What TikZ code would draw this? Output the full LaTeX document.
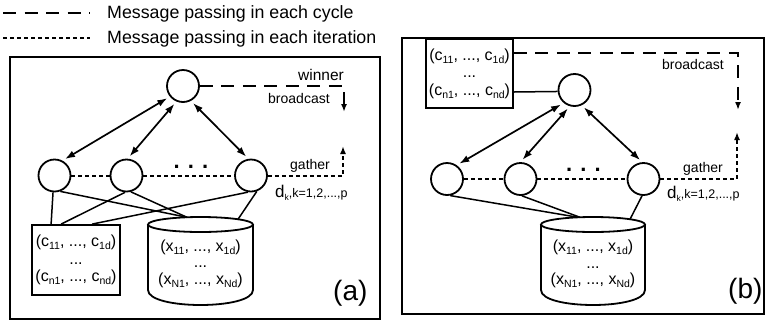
\documentclass[tikz,border=0pt]{standalone}
\usepackage{fontspec}
\setmainfont{Liberation Sans}
\usetikzlibrary{arrows.meta,calc}
\newcommand{\sbs}[1]{\raisebox{-3pt}{\fontsize{10.5}{10.5}\selectfont #1}}
\newcommand{\dklabel}{{\fontsize{17}{17}\selectfont d}\raisebox{-3pt}{\fontsize{8.5}{8.5}\selectfont k}{\fontsize{12.5}{12.5}\selectfont ,k=1,2,...,p}}
\begin{document}
\begin{tikzpicture}[x=1pt,y=-1pt,
  frame/.style={draw, line width=2pt, inner sep=0},
  neuron/.style={circle, draw, line width=1.8pt, minimum size=32pt, inner sep=0},
  conn/.style={line width=1.5pt},
  biarrow/.style={line width=1.7pt, {Latex[length=10pt,width=7pt]}-{Latex[length=10pt,width=7pt]}, shorten <=3pt, shorten >=3pt},
  cyclemsg/.style={line width=2pt, dash pattern=on 13pt off 8.5pt},
  itermsg/.style={line width=2pt, dash pattern=on 4pt off 3pt},
  tip/.style={-{Latex[length=8pt,width=6pt]}},
  dbox/.style={draw, line width=1.8pt, minimum width=88pt, minimum height=70pt, inner sep=0, align=center, font=\fontsize{16}{17.5}\selectfont},
  dtext/.style={inner sep=0, align=center, font=\fontsize{16}{16.5}\selectfont},
  cylbody/.style={line width=1.8pt},
  lbl/.style={inner sep=0, anchor=base west},
  legfont/.style={font=\fontsize{17.8}{20}\selectfont},
  smallfont/.style={font=\fontsize{14}{16}\selectfont},
  dots/.style={inner sep=0, font=\fontsize{22}{22}\selectfont\bfseries}
]
\useasboundingbox (0,0) rectangle (767,322);

% legend
\coordinate (lg1s) at (3,13);
\coordinate (lg1e) at (90,13);
\coordinate (lg2s) at (3,38);
\coordinate (lg2e) at (90,38);
\draw[cyclemsg] (lg1s) -- (lg1e);
\draw[itermsg] (lg2s) -- (lg2e);
\node[lbl, legfont] (lgt1) at (107,18) {Message passing in each cycle};
\node[lbl, legfont] (lgt2) at (107,43) {Message passing in each iteration};

% ---------------- panel (a)
\node[frame, minimum width=370pt, minimum height=262pt] (panelA) at (195,188) {};
\node[neuron] (topA) at (183,86) {};
\node[neuron] (cA1) at (54.5,175.5) {};
\node[neuron] (cA2) at (126.5,175.5) {};
\node[neuron] (cA3) at (251,175.5) {};
\node[dots] (dotsA) at (191,167) {. . .};

\node[dbox] (boxA) at (76,260) {(c\sbs{11}, ..., c\sbs{1d})\\...\\(c\sbs{n1}, ..., c\sbs{nd})};
\node[dtext] (cylA) at (200.5,263.5) {(x\sbs{11}, ..., x\sbs{1d})\\...\\(x\sbs{N1}, ..., x\sbs{Nd})};
\draw[cylbody] ($(cylA.center)+(0,-39)$) ellipse [x radius=52.5pt, y radius=7.5pt];
\draw[cylbody] ($(cylA.center)+(-52.5,-39)$) -- ($(cylA.center)+(-52.5,26.5)$)
  .. controls ($(cylA.center)+(-52.5,46.5)$) and ($(cylA.center)+(52.5,46.5)$) .. ($(cylA.center)+(52.5,26.5)$)
  -- ($(cylA.center)+(52.5,-39)$);

\draw[biarrow] (cA1.62) -- (topA.219);
\draw[biarrow] (cA2.86) -- (topA.247);
\draw[biarrow] (topA.298) -- (cA3.99);

\draw[conn] (cA1.265) -- ([xshift=20pt]boxA.north west);
\draw[conn] (cA1.290) -- ($(cylA.center)+(-13.5,-46.2)$);
\draw[conn] (cA2.265) -- ([xshift=30pt]boxA.north west);
\draw[conn] (cA2.285) -- ($(cylA.center)+(-13.5,-46.2)$);
\draw[conn] (cA3.260) -- ([xshift=61pt]boxA.north west);
\draw[conn] (cA3.290) -- ($(cylA.center)+(37.5,-44.2)$);

\coordinate (bcA1) at (344,86);
\coordinate (bcA2) at (344,112);
\coordinate (gA1) at (343,175.5);
\coordinate (gA2) at (343,146);
\draw[cyclemsg, tip] (topA.east) -- (bcA1) -- (bcA2);
\draw[itermsg] (cA1.east) -- (cA2.west);
\draw[itermsg] (cA2.east) -- (cA3.west);
\draw[itermsg, tip] (cA3.east) -- (gA1) -- (gA2);

\node[lbl, font=\fontsize{15.5}{18}\selectfont] (winner) at (298,80) {winner};
\node[lbl, smallfont] (bcastA) at (268,103) {broadcast};
\node[lbl, smallfont] (gatherA) at (290,169) {gather};
\node[lbl] (dkA) at (275,197) {\dklabel};
\node[lbl, font=\fontsize{28}{30}\selectfont] (labA) at (333,300) {(a)};

% ---------------- panel (b)
\node[frame, minimum width=362pt, minimum height=276pt] (panelB) at (583,176) {};
\node[neuron] (topB) at (574.5,90) {};
\node[neuron] (cB1) at (447,179) {};
\node[neuron] (cB2) at (520.5,179) {};
\node[neuron] (cB3) at (643.5,179) {};
\node[dots] (dotsB) at (583.5,170) {. . .};

\node[dbox, minimum width=87pt, minimum height=69pt] (boxB) at (469.5,73.5) {(c\sbs{11}, ..., c\sbs{1d})\\...\\(c\sbs{n1}, ..., c\sbs{nd})};
\node[dtext] (cylB) at (593,264) {(x\sbs{11}, ..., x\sbs{1d})\\...\\(x\sbs{N1}, ..., x\sbs{Nd})};
\draw[cylbody] ($(cylB.center)+(0,-39.5)$) ellipse [x radius=52pt, y radius=7.5pt];
\draw[cylbody] ($(cylB.center)+(-52,-39.5)$) -- ($(cylB.center)+(-52,26)$)
  .. controls ($(cylB.center)+(-52,46)$) and ($(cylB.center)+(52,46)$) .. ($(cylB.center)+(52,26)$)
  -- ($(cylB.center)+(52,-39.5)$);

\draw[conn] ([yshift=-18.5pt]boxB.east) -- (topB.185);

\draw[biarrow] (cB1.55) -- (topB.230);
\draw[biarrow] (cB2.90) -- (topB.254);
\draw[biarrow] (topB.295) -- (cB3.94);

\draw[conn] (cB1.281) -- ($(cylB.center)+(-15,-46.7)$);
\draw[conn] (cB2.275) -- ($(cylB.center)+(-13,-46.7)$);
\draw[conn] (cB3.265) -- ($(cylB.center)+(37,-44.7)$);

\coordinate (bcB1) at (738,53);
\coordinate (bcB2) at (738,110);
\coordinate (gB1) at (737,179);
\coordinate (gB2) at (737,132);
\draw[cyclemsg, tip] ([yshift=20.5pt]boxB.east) -- (bcB1) -- (bcB2);
\draw[itermsg] (cB1.east) -- (cB2.west);
\draw[itermsg] (cB2.east) -- (cB3.west);
\draw[itermsg, tip] (cB3.east) -- (gB1) -- (gB2);

\node[lbl, smallfont] (bcastB) at (662,69) {broadcast};
\node[lbl, smallfont] (gatherB) at (683,172) {gather};
\node[lbl] (dkB) at (667,198) {\dklabel};
\node[lbl, font=\fontsize{28}{30}\selectfont] (labB) at (728,298) {(b)};
\end{tikzpicture}
\end{document}
